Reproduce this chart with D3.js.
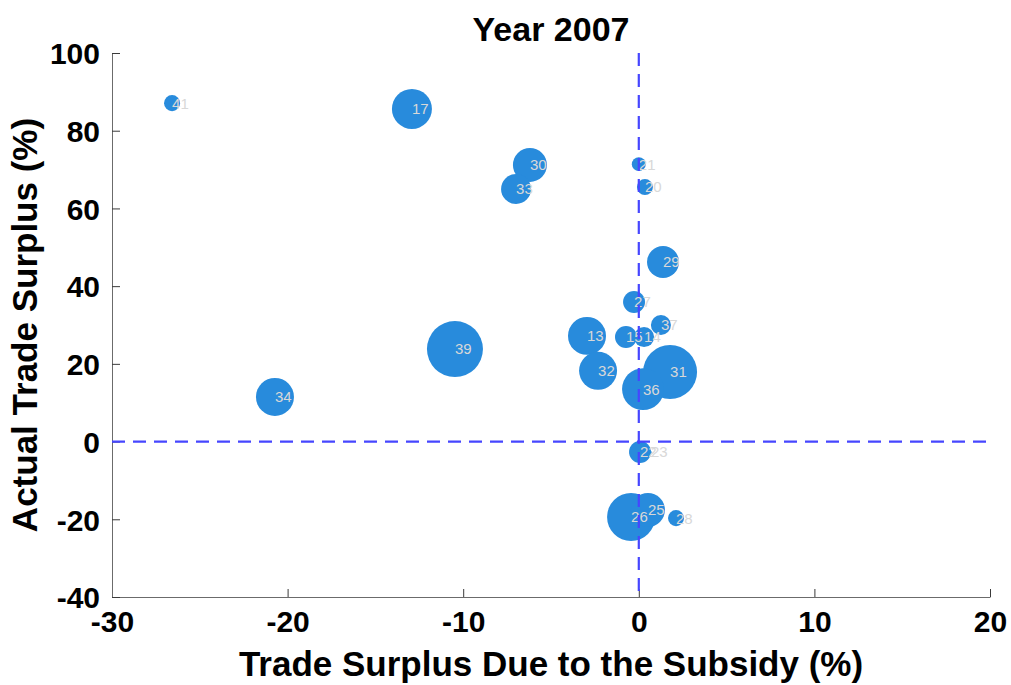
<!DOCTYPE html>
<html>
<head>
<meta charset="utf-8">
<script src="https://cdn.jsdelivr.net/npm/d3@7"></script>
<style>
  html, body { margin: 0; padding: 0; background: #fff; }
  svg text { font-family: "Liberation Sans", Arial, Helvetica, sans-serif; }
</style>
</head>
<body>
<svg id="chart" width="1011" height="685"></svg>
<script>
// Country identifiers shown next to each bubble
const ids = ["41", "17", "30", "33", "21", "20", "29", "27", "37", "13", "15",
             "14", "32", "31", "36", "39", "34", "22", "23", "26", "25", "28"];
// Trade surplus attributable to the subsidy (%)
const subsidySurplus = [-26.58, -12.92, -6.20, -6.99, 0.00, 0.35, 1.38, -0.27, 1.26, -2.95, -0.73,
                        0.30, -2.32, 1.78, 0.24, -10.47, -20.72, 0.07, 0.69, -0.44, 0.52, 2.12];
// Actual trade surplus (%)
const actualSurplus = [87.1, 85.6, 71.2, 65.0, 71.4, 65.5, 46.2, 35.9, 30.0, 27.2, 26.9,
                       26.9, 18.2, 17.9, 13.5, 23.8, 11.5, -2.7, -2.7, -19.4, -17.6, -19.7];
// Relative economic weight, mapped to bubble area
const weight = [0.82, 5.1, 3.69, 2.87, 0.62, 0.82, 3.27, 1.54, 1.28, 4.6, 1.54,
                1.28, 4.6, 9.3, 5.6, 10.0, 4.6, 1.54, 0.01, 7.35, 3.69, 0.82];

const xTicks = [-30, -20, -10, 0, 10, 20];
const yTicks = [-40, -20, 0, 20, 40, 60, 80, 100];

const data = ids.map((id, i) => ({
  id, x: subsidySurplus[i], y: actualSurplus[i], w: weight[i]
}));

const plotLeft = 112, plotRight = 990, plotTop = 53, plotBottom = 597;
const svg = d3.select("#chart");

const x = d3.scaleLinear().domain([-30, 20]).range([plotLeft, plotRight]);
const y = d3.scaleLinear().domain([-40, 100]).range([plotBottom, plotTop]);
const r = d3.scaleSqrt().domain([0, 10]).range([0, 28]);

// Bubbles
svg.append("g").selectAll("circle").data(data).join("circle")
  .attr("cx", d => x(d.x))
  .attr("cy", d => y(d.y))
  .attr("r", d => r(d.w))
  .attr("fill", "#288bdc");

// Bubble labels
svg.append("g").selectAll("text").data(data).join("text")
  .attr("x", d => x(d.x))
  .attr("y", d => y(d.y))
  .attr("dy", "0.36em")
  .attr("font-size", 15)
  .attr("fill", "#d8d8d8")
  .text(d => d.id);

// Axes with inward ticks; plain hyphen for negative values
const plain = d => String(d);
const xAxis = svg.append("g")
  .attr("transform", `translate(0,${plotBottom})`)
  .call(d3.axisBottom(x).tickValues(xTicks).tickFormat(plain)
    .tickSize(-8).tickSizeOuter(0).tickPadding(14));
const yAxis = svg.append("g")
  .attr("transform", `translate(${plotLeft},0)`)
  .call(d3.axisLeft(y).tickValues(yTicks).tickFormat(plain)
    .tickSize(-8).tickSizeOuter(0).tickPadding(12));

[xAxis, yAxis].forEach(g => {
  g.select(".domain").attr("stroke", "#6b6b6b").attr("stroke-width", 1);
  g.selectAll(".tick line").attr("stroke", "#3a3a3a").attr("stroke-width", 1);
  g.selectAll(".tick text")
    .attr("fill", "#000")
    .attr("font-size", 30)
    .attr("font-weight", "bold")
    .attr("font-family", "'Liberation Sans', Arial, sans-serif");
});
xAxis.selectAll(".tick text").attr("dy", "0.71em");
yAxis.selectAll(".tick text").attr("dy", "0.36em");

// Reference lines at zero
svg.append("line")
  .attr("x1", x(0)).attr("x2", x(0))
  .attr("y1", y(100)).attr("y2", y(-40))
  .attr("stroke", "#4646ff").attr("stroke-width", 2.2)
  .attr("stroke-dasharray", "13,8");
svg.append("line")
  .attr("x1", x(-30)).attr("x2", x(20))
  .attr("y1", y(0)).attr("y2", y(0))
  .attr("stroke", "#4646ff").attr("stroke-width", 2.2)
  .attr("stroke-dasharray", "13,8");

// Title and axis titles
svg.append("text")
  .attr("x", (plotLeft + plotRight) / 2).attr("y", 41)
  .attr("text-anchor", "middle")
  .attr("font-size", 34).attr("font-weight", "bold")
  .text("Year 2007");

svg.append("text")
  .attr("x", (plotLeft + plotRight) / 2).attr("y", 676)
  .attr("text-anchor", "middle")
  .attr("font-size", 35).attr("font-weight", "bold")
  .text("Trade Surplus Due to the Subsidy (%)");

svg.append("text")
  .attr("transform", `translate(37,${(plotTop + plotBottom) / 2}) rotate(-90)`)
  .attr("text-anchor", "middle")
  .attr("font-size", 35).attr("font-weight", "bold")
  .text("Actual Trade Surplus (%)");
</script>
</body>
</html>
